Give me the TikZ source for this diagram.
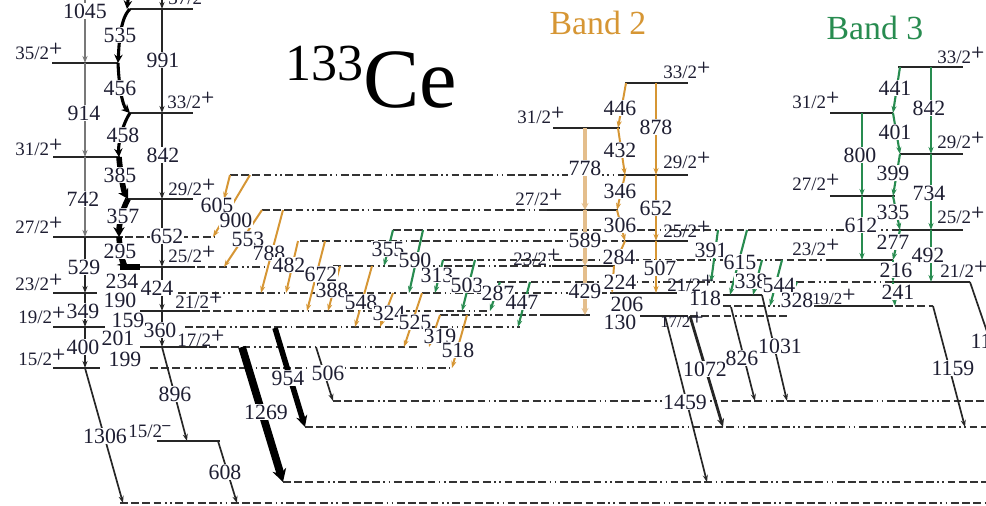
\documentclass[tikz,border=0pt]{standalone}
\usepackage{fontspec}
\setmainfont{Liberation Serif}
\usetikzlibrary{arrows.meta}
\definecolor{orb}{RGB}{214,150,52}
\definecolor{orl}{RGB}{228,190,140}
\definecolor{grb}{RGB}{40,140,80}
\definecolor{lgr}{RGB}{120,120,120}
\definecolor{txt}{RGB}{30,30,50}
\newcommand\spp{\raisebox{0.32em}{\fontsize{11}{11}\selectfont\sffamily\bfseries +}}
\newcommand\smm{\raisebox{0.32em}{\fontsize{11}{11}\selectfont\sffamily\bfseries --}}
\newcommand\TLab[4]{\node[lab] (#1) at (#2,#3) {#4};}
\newcommand\SLab[4]{\node[spin,anchor=base west] (#1) at (#2,#3) {#4\spp};}
\begin{document}
\begin{tikzpicture}[x=0.25mm,y=-0.25mm,
  lev/.style={line width=1.3pt,black!85},
  dlev/.style={line width=1.2pt,black!80,dash pattern=on 5.5pt off 2.5pt on 5.5pt off 2.5pt on 5.5pt off 2.5pt on 5.5pt off 2.5pt on 1.2pt off 2.5pt on 1.2pt off 2.5pt},
  tr/.style={line width=1.2pt,black!85,-{Stealth[length=5pt,width=3.6pt]}},
  trg/.style={line width=1.6pt,lgr,-{Stealth[length=5pt,width=3.6pt]}},
  tro/.style={line width=1.4pt,orb,-{Stealth[length=5pt,width=3.6pt]}},
  trol/.style={line width=3pt,orl,-{Stealth[length=5pt,width=5pt]}},
  trgr/.style={line width=1.5pt,grb,-{Stealth[length=5pt,width=3.6pt]}},
  thk/.style={line width=2.2pt,black,-{Stealth[length=6pt,width=6pt]}},
  vthk/.style={line width=4pt,black,-{Stealth[length=7pt,width=8pt]}},
  lab/.style={font=\fontsize{15.5}{15.5}\selectfont,text=txt,fill=white,inner sep=0.4pt},
  spin/.style={font=\fontsize{13.5}{13.5}\selectfont,text=txt,inner sep=0pt},
]
\clip (0,0) rectangle (986,505);
\fill[white] (0,0) rectangle (986,505);

% ---------------- levels: band 1 ----------------
\draw[lev] (52,63) -- (118,63);
\draw[lev] (53,157) -- (120,157);
\draw[lev] (53,237) -- (123,237);
\draw[dlev] (125,237) -- (215,237);
\draw[lev] (53,293) -- (97,293);
\draw[dlev] (178,293) -- (610,293);
\draw[lev] (53,327) -- (105,327);
\draw[dlev] (185,327) -- (520,327);
\draw[lev] (53,368) -- (100,368);
\draw[dlev] (150,368) -- (450,368);
\draw[lev] (130,9) -- (193,9);
\draw[lev] (130,113) -- (193,113);
\draw[lev] (127,199) -- (193,199);
\draw[lev] (120,267) -- (195,267);
\draw[dlev] (197,267) -- (265,267);
\draw[lev] (140,311) -- (200,311);
\draw[dlev] (202,311) -- (490,311);
\draw[lev] (140,347) -- (207,347);
\draw[dlev] (209,347) -- (420,347);
\draw[lev] (157,441) -- (220,441);

% ---------------- levels: band 2 ----------------
\draw[lev] (625,83) -- (688,83);
\draw[lev] (553,128) -- (620,128);
\draw[dlev] (230,175) -- (622,175);
\draw[lev] (622,175) -- (688,175);
\draw[dlev] (262,210) -- (547,210);
\draw[lev] (547,210) -- (618,210);
\draw[dlev] (300,241) -- (625,241);
\draw[lev] (625,241) -- (688,241);
\draw[dlev] (333,266) -- (552,266);
\draw[lev] (552,266) -- (615,266);
\draw[lev] (610,293) -- (677,293);
\draw[dlev] (440,315) -- (540,315);
\draw[lev] (540,315) -- (590,315);
\draw[lev] (640,316) -- (688,316);
\draw[dlev] (690,316) -- (787,316);

% ---------------- levels: band 3 ----------------
\draw[lev] (898,67) -- (963,67);
\draw[lev] (830,113) -- (893,113);
\draw[lev] (900,154) -- (963,154);
\draw[lev] (830,196) -- (895,196);
\draw[dlev] (393,230) -- (898,230);
\draw[lev] (898,230) -- (963,230);
\draw[dlev] (443,260) -- (827,260);
\draw[lev] (827,260) -- (893,260);
\draw[dlev] (497,282) -- (890,282);
\draw[lev] (890,282) -- (970,282);
\draw[dlev] (723,306) -- (817,306);
\draw[lev] (817,306) -- (893,306);
\draw[dlev] (895,306) -- (933,306);
\draw[lev] (723,295) -- (762,295);

% ---------------- lower levels ----------------
\draw[dlev] (333,401) -- (986,401);
\draw[dlev] (305,427) -- (986,427);
\draw[dlev] (283,482) -- (986,482);
\draw[dlev] (120,503) -- (986,503);

% ---------------- band 1 transitions ----------------
\draw[trg] (85,0) -- (85,63);
\draw[trg] (85,63) -- (85,157);
\draw[trg] (85,157) -- (85,237);
\draw[tr] (85,237) -- (85,293);
\draw[tr] (85,293) -- (85,327);
\draw[tr] (85,327) -- (85,368);
\draw[tr] (85,368) -- (123,503);
\draw[tr] (162,0) -- (162,9);
\draw[tr] (162,9) -- (162,113);
\draw[tr] (162,113) -- (162,199);
\draw[tr] (162,199) -- (162,267);
\draw[tr] (162,267) -- (162,311);
\draw[tr] (162,311) -- (162,347);
\draw[tr] (162,347) -- (187,441);
\draw[tr] (218,441) -- (237,503);
\draw[thk] (128,0) -- (127,9);
\draw[thk] (130,9) .. controls (120,18) and (119,45) .. (118,63);
\draw[thk] (118,63) .. controls (119,85) and (122,105) .. (130,113);
\draw[thk] (130,113) .. controls (122,125) and (118,145) .. (119,157);
\draw[vthk] (119,157) .. controls (120,170) and (123,190) .. (128,199);
\draw[vthk] (128,199) .. controls (122,210) and (119,225) .. (119,237);
\draw[vthk] (119,237) .. controls (120,250) and (122,262) .. (128,267);
\draw[line width=4pt] (120,267) -- (140,267);

% thick diagonals
\draw[line width=5.5pt,-{Stealth[length=9pt,width=10pt]}] (242,347) -- (283,482);
\draw[line width=4pt,-{Stealth[length=8pt,width=8pt]}] (275,328) -- (305,427);
\draw[tr] (316,347) -- (333,401);
% lower right
\draw[tr] (665,316) -- (707,482);
\draw[line width=2pt,black!85,-{Stealth[length=6pt,width=5pt]}] (690,316) -- (723,427);
\draw[tr] (731,307) -- (755,401);
\draw[tr] (762,295) -- (787,401);
\draw[tr] (933,306) -- (965,427);
\draw[tr] (970,282) -- (995,355);

% ---------------- orange side transitions ----------------
\draw[tro] (230,175) -- (224,199);
\draw[tro] (250,175) -- (213,237);
\draw[tro] (262,210) -- (224,267);
\draw[tro] (283,210) -- (261,293);
\draw[tro] (298,241) -- (286,293);
\draw[tro] (325,241) -- (307,311);
\draw[tro] (340,266) -- (328,311);
\draw[tro] (372,266) -- (355,327);
\draw[tro] (393,293) -- (380,327);
\draw[tro] (422,293) -- (404,347);
\draw[tro] (440,315) -- (429,347);
\draw[tro] (467,315) -- (452,368);

% ---------------- green side transitions ----------------
\draw[trgr] (393,230) -- (384,266);
\draw[trgr] (423,230) -- (409,293);
\draw[trgr] (443,260) -- (435,293);
\draw[trgr] (475,260) -- (462,311);
\draw[trgr] (500,282) -- (490,311);
\draw[trgr] (530,282) -- (518,327);
\draw[trgr] (718,230) -- (711,282);
\draw[trgr] (747,230) -- (730,295);
\draw[trgr] (762,260) -- (753,295);
\draw[trgr] (782,260) -- (770,306);
\draw[trgr] (797,282) -- (786,306);

% ---------------- band 2 transitions ----------------
\draw[trol] (585,128) -- (585,210);
\draw[trol] (585,210) -- (585,266);
\draw[trol] (585,266) -- (585,315);
\draw[tro] (656,83) -- (656,175);
\draw[tro] (656,175) -- (656,241);
\draw[tro] (656,241) -- (656,293);
\draw[tro] (626,83) -- (618,128);
\draw[tro] (618,128) -- (625,175);
\draw[tro] (625,175) -- (617,210);
\draw[tro] (617,210) -- (625,241);
\draw[tro] (625,241) -- (614,266);
\draw[tro] (614,266) -- (612,293);

% ---------------- band 3 transitions ----------------
\draw[trgr] (862,113) -- (862,196);
\draw[trgr] (862,196) -- (862,260);
\draw[trgr] (931,67) -- (931,154);
\draw[trgr] (931,154) -- (931,230);
\draw[trgr] (931,230) -- (931,282);
\draw[trgr] (900,67) -- (893,113);
\draw[trgr] (893,113) -- (900,154);
\draw[trgr] (900,154) -- (893,196);
\draw[trgr] (893,196) -- (900,230);
\draw[trgr] (900,230) -- (893,260);
\draw[trgr] (893,260) -- (893,282);
\draw[trgr] (893,282) -- (895,306);

% ---------------- transition labels ----------------
\TLab{t1045}{85}{11}{1045}
\TLab{t914}{84}{113}{914}
\TLab{t742}{83}{199}{742}
\TLab{t529}{84}{267}{529}
\TLab{t349}{83}{311}{349}
\TLab{t400}{83}{347}{400}
\TLab{t1306}{105}{436}{1306}
\TLab{t991}{163}{60}{991}
\TLab{t842a}{163}{155}{842}
\TLab{t652a}{167}{236}{652}
\TLab{t424}{157}{288}{424}
\TLab{t360}{160}{330}{360}
\TLab{t896}{175}{394}{896}
\TLab{t608}{225}{472}{608}
\TLab{t535}{120}{35}{535}
\TLab{t456}{120}{88}{456}
\TLab{t458}{123}{135}{458}
\TLab{t385}{120}{175}{385}
\TLab{t357}{123}{216}{357}
\TLab{t295}{120}{251}{295}
\TLab{t234}{122}{281}{234}
\TLab{t190}{120}{300}{190}
\TLab{t159}{128}{320}{159}
\TLab{t201}{118}{338}{201}
\TLab{t199}{125}{359}{199}
\TLab{t954}{288}{378}{954}
\TLab{t1269}{266}{412}{1269}
\TLab{t506}{328}{373}{506}
\TLab{t1459}{685}{402}{1459}
\TLab{t1072}{705}{369}{1072}
\TLab{t826}{742}{358}{826}
\TLab{t1031}{780}{346}{1031}
\TLab{t1159}{953}{368}{1159}
\TLab{t11}{981}{341}{11}
% orange
\TLab{t605}{217}{205}{605}
\TLab{t900}{236}{220}{900}
\TLab{t553}{248}{239}{553}
\TLab{t788}{269}{253}{788}
\TLab{t482}{289}{265}{482}
\TLab{t672}{321}{274}{672}
\TLab{t388}{332}{290}{388}
\TLab{t548}{361}{302}{548}
\TLab{t324}{389}{313}{324}
\TLab{t525}{415}{322}{525}
\TLab{t319}{440}{336}{319}
\TLab{t518}{458}{350}{518}
% green
\TLab{t355}{388}{249}{355}
\TLab{t590}{415}{260}{590}
\TLab{t313}{437}{275}{313}
\TLab{t503}{467}{285}{503}
\TLab{t287}{498}{293}{287}
\TLab{t447}{522}{302}{447}
\TLab{t391}{711}{250}{391}
\TLab{t615}{740}{262}{615}
\TLab{t338}{751}{281}{338}
\TLab{t544}{779}{285}{544}
\TLab{t328}{797}{300}{328}
\TLab{t118}{705}{298}{118}
% band 2
\TLab{t446}{620}{108}{446}
\TLab{t432}{620}{150}{432}
\TLab{t346}{620}{191}{346}
\TLab{t306}{620}{225}{306}
\TLab{t284}{619}{257}{284}
\TLab{t224}{620}{282}{224}
\TLab{t206}{627}{304}{206}
\TLab{t130}{620}{322}{130}
\TLab{t778}{585}{168}{778}
\TLab{t589}{585}{240}{589}
\TLab{t429}{585}{291}{429}
\TLab{t878}{656}{127}{878}
\TLab{t652b}{656}{208}{652}
\TLab{t507}{660}{268}{507}
% band 3
\TLab{t441}{895}{88}{441}
\TLab{t401}{895}{132}{401}
\TLab{t399}{893}{173}{399}
\TLab{t335}{893}{212}{335}
\TLab{t277}{893}{242}{277}
\TLab{t216}{896}{270}{216}
\TLab{t241}{898}{292}{241}
\TLab{t800}{860}{155}{800}
\TLab{t612}{861}{225}{612}
\TLab{t842b}{929}{108}{842}
\TLab{t734}{929}{193}{734}
\TLab{t492}{928}{255}{492}

% ---------------- spin labels ----------------
\SLab{s35}{15}{59}{35/2}
\SLab{s31}{15}{155}{31/2}
\SLab{s27}{15}{233}{27/2}
\SLab{s23}{15}{290}{23/2}
\SLab{s19}{18}{323}{19/2}
\SLab{s15}{18}{365}{15/2}
\SLab{s37}{168}{4}{37/2}
\SLab{s33}{167}{108}{33/2}
\SLab{s29}{168}{195}{29/2}
\SLab{s25}{168}{262}{25/2}
\SLab{s21}{175}{308}{21/2}
\SLab{s17}{177}{346}{17/2}
\node[spin,anchor=base west] (s15m) at (128,437) {15/2\smm};
\SLab{b2s33}{663}{78}{33/2}
\SLab{b2s31}{517}{123}{31/2}
\SLab{b2s29}{663}{168}{29/2}
\SLab{b2s27}{515}{205}{27/2}
\SLab{b2s25}{663}{237}{25/2}
\SLab{b2s23}{513}{265}{23/2}
\SLab{b2s21}{667}{291}{21/2}
\node[spin,anchor=base west,font=\fontsize{12}{12}\selectfont] (b2s17) at (660,327) {17/2\spp};
\SLab{b3s33}{937}{63}{33/2}
\SLab{b3s31}{792}{108}{31/2}
\SLab{b3s29}{937}{148}{29/2}
\SLab{b3s27}{792}{190}{27/2}
\SLab{b3s25}{937}{223}{25/2}
\SLab{b3s23}{792}{255}{23/2}
\SLab{b3s21}{940}{277}{21/2}
\node[spin,anchor=base west,font=\fontsize{12}{12}\selectfont] (b3s19) at (812,304) {19/2\spp};

% ---------------- titles ----------------
\node[anchor=base west,inner sep=0pt,text=black] (title) at (285,107)
  {\raisebox{19pt}{\fontsize{37}{37}\selectfont 133}\fontsize{60}{60}\selectfont Ce};
\node[anchor=base,inner sep=0pt,text=orb,font=\fontsize{24}{24}\selectfont] (band2) at (598,34) {Band 2};
\node[anchor=base,inner sep=0pt,text=grb,font=\fontsize{24}{24}\selectfont] (band3) at (875,39) {Band 3};
\end{tikzpicture}
\end{document}
